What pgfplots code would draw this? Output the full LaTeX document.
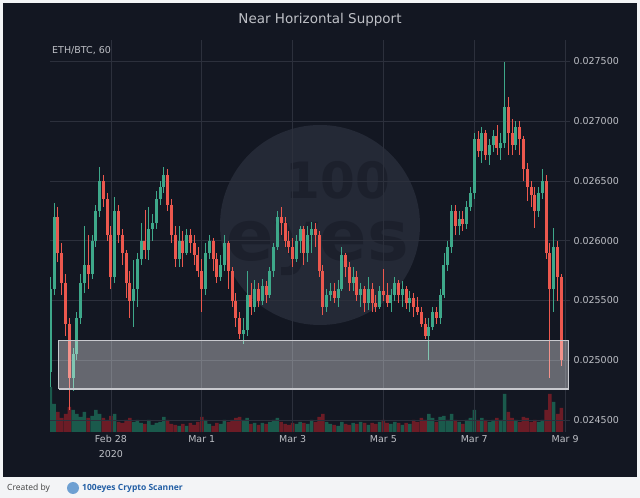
\documentclass[border=0pt]{standalone}
\usepackage{pgfplots}
\pgfplotsset{compat=1.18}
\usepackage{pgfplotstable}
\usepackage{fontspec}
\setmainfont{DejaVu Sans}
\newfontfamily\opensans{Open Sans}
\definecolor{bg}{RGB}{19,23,34}
\definecolor{outer}{RGB}{243,244,246}
\definecolor{gridc}{RGB}{44,48,60}
\definecolor{labc}{RGB}{190,192,198}
\definecolor{upc}{RGB}{62,168,138}
\definecolor{dnc}{RGB}{236,88,78}
\definecolor{volg}{RGB}{26,90,76}
\definecolor{volr}{RGB}{108,28,38}
\definecolor{wmc}{RGB}{36,41,54}
\definecolor{wmt}{RGB}{28,32,44}
\definecolor{rectc}{RGB}{200,201,206}
\definecolor{linkc}{RGB}{35,95,165}
\definecolor{logoc}{RGB}{110,160,210}

\pgfplotstableread{
t o h l c v
-32 0.02490 0.02570 0.02478 0.02560 45
-30 0.02560 0.02632 0.02555 0.02620 28
-28 0.02620 0.02628 0.02582 0.02590 20
-26 0.02590 0.02598 0.02555 0.02565 14
-24 0.02565 0.02572 0.02520 0.02530 18
-22 0.02530 0.02535 0.02458 0.02485 25
-20 0.02485 0.02510 0.02474 0.02505 22
-18 0.02505 0.02540 0.02500 0.02535 18
-16 0.02535 0.02572 0.02530 0.02565 15
-14 0.02565 0.02612 0.02556 0.02580 20
-12 0.02580 0.02605 0.02560 0.02572 14
-10 0.02572 0.02605 0.02568 0.02600 16
-8 0.02600 0.02630 0.02595 0.02625 22
-6 0.02625 0.02662 0.02620 0.02650 18
-4 0.02650 0.02655 0.02628 0.02635 14
-2 0.02635 0.02640 0.02600 0.02605 12
0 0.02605 0.02612 0.02560 0.02570 16
2 0.02570 0.02637 0.02565 0.02625 18
4 0.02625 0.02630 0.02598 0.02605 10
6 0.02605 0.02610 0.02580 0.02590 9
8 0.02590 0.02592 0.02552 0.02565 12
10 0.02565 0.02575 0.02535 0.02550 14
12 0.02550 0.02584 0.02528 0.02560 10
14 0.02560 0.02590 0.02545 0.02585 12
16 0.02585 0.02615 0.02580 0.02600 9
18 0.02600 0.02626 0.02585 0.02592 8
20 0.02592 0.02628 0.02584 0.02610 12
22 0.02610 0.02622 0.02600 0.02615 7
24 0.02615 0.02642 0.02610 0.02635 9
26 0.02635 0.02650 0.02630 0.02645 10
28 0.02645 0.02662 0.02640 0.02655 15
30 0.02655 0.02660 0.02625 0.02630 12
32 0.02630 0.02635 0.02598 0.02605 8
34 0.02605 0.02612 0.02578 0.02585 7
36 0.02585 0.02612 0.02578 0.02600 6
38 0.02600 0.02608 0.02578 0.02590 8
40 0.02590 0.02610 0.02588 0.02605 6
42 0.02605 0.02610 0.02590 0.02598 9
44 0.02598 0.02605 0.02580 0.02588 7
46 0.02588 0.02595 0.02570 0.02575 10
48 0.02575 0.02585 0.02540 0.02560 15
50 0.02560 0.02598 0.02555 0.02590 12
52 0.02590 0.02605 0.02585 0.02600 8
54 0.02600 0.02602 0.02575 0.02585 6
56 0.02585 0.02590 0.02565 0.02570 9
58 0.02570 0.02588 0.02566 0.02580 8
60 0.02580 0.02605 0.02575 0.02598 12
62 0.02598 0.02600 0.02560 0.02575 10
64 0.02575 0.02578 0.02545 0.02550 12
66 0.02550 0.02556 0.02528 0.02535 14
68 0.02535 0.02540 0.02518 0.02522 15
70 0.02522 0.02535 0.02514 0.02525 12
72 0.02525 0.02575 0.02520 0.02555 14
74 0.02555 0.02565 0.02538 0.02545 8
76 0.02545 0.02567 0.02540 0.02560 9
78 0.02560 0.02565 0.02545 0.02550 7
80 0.02550 0.02568 0.02546 0.02562 9
82 0.02562 0.02566 0.02548 0.02555 8
84 0.02555 0.02578 0.02552 0.02575 10
86 0.02575 0.02598 0.02570 0.02595 12
88 0.02595 0.02625 0.02592 0.02620 14
90 0.02620 0.02628 0.02605 0.02615 10
92 0.02615 0.02620 0.02595 0.02600 8
94 0.02600 0.02608 0.02590 0.02595 7
96 0.02595 0.02602 0.02578 0.02585 9
98 0.02585 0.02605 0.02582 0.02600 8
100 0.02600 0.02612 0.02590 0.02610 10
102 0.02610 0.02612 0.02580 0.02590 9
104 0.02590 0.02612 0.02582 0.02605 8
106 0.02605 0.02616 0.02590 0.02610 12
108 0.02610 0.02615 0.02595 0.02605 10
110 0.02605 0.02608 0.02570 0.02575 15
112 0.02575 0.02580 0.02538 0.02545 18
114 0.02545 0.02560 0.02540 0.02555 10
116 0.02555 0.02565 0.02550 0.02558 8
118 0.02558 0.02565 0.02548 0.02552 7
120 0.02552 0.02567 0.02545 0.02560 6
122 0.02560 0.02595 0.02558 0.02588 10
124 0.02588 0.02590 0.02570 0.02578 8
126 0.02578 0.02582 0.02558 0.02565 7
128 0.02565 0.02578 0.02558 0.02570 9
130 0.02570 0.02575 0.02550 0.02555 8
132 0.02555 0.02565 0.02545 0.02560 10
134 0.02560 0.02562 0.02540 0.02548 9
136 0.02548 0.02570 0.02542 0.02560 7
138 0.02560 0.02565 0.02540 0.02548 9
140 0.02548 0.02555 0.02540 0.02545 8
142 0.02545 0.02562 0.02543 0.02558 10
144 0.02558 0.02576 0.02550 0.02555 12
146 0.02555 0.02565 0.02545 0.02548 9
148 0.02548 0.02560 0.02540 0.02555 8
150 0.02555 0.02570 0.02550 0.02565 10
152 0.02565 0.02567 0.02548 0.02555 9
154 0.02555 0.02566 0.02545 0.02560 7
156 0.02560 0.02562 0.02543 0.02548 9
158 0.02548 0.02558 0.02540 0.02552 8
160 0.02552 0.02556 0.02536 0.02545 12
162 0.02545 0.02553 0.02538 0.02540 10
164 0.02540 0.02545 0.02528 0.02530 14
166 0.02530 0.02535 0.02518 0.02520 12
168 0.02520 0.02535 0.02500 0.02528 18
170 0.02528 0.02545 0.02525 0.02540 14
172 0.02540 0.02545 0.02530 0.02535 10
174 0.02535 0.02560 0.02530 0.02555 15
176 0.02555 0.02590 0.02552 0.02580 16
178 0.02580 0.02600 0.02575 0.02595 12
180 0.02595 0.02630 0.02590 0.02625 18
182 0.02625 0.02630 0.02605 0.02612 12
184 0.02612 0.02625 0.02605 0.02618 10
186 0.02618 0.02625 0.02608 0.02614 8
188 0.02614 0.02633 0.02610 0.02628 12
190 0.02628 0.02645 0.02625 0.02640 14
192 0.02640 0.02690 0.02635 0.02685 22
194 0.02685 0.02692 0.02670 0.02675 12
196 0.02675 0.02695 0.02665 0.02690 14
198 0.02690 0.02693 0.02668 0.02672 12
200 0.02672 0.02685 0.02663 0.02680 10
202 0.02680 0.02693 0.02674 0.02688 12
204 0.02688 0.02697 0.02672 0.02678 14
206 0.02678 0.02690 0.02668 0.02682 12
208 0.02682 0.02750 0.02678 0.02712 38
210 0.02712 0.02720 0.02672 0.02690 20
212 0.02690 0.02702 0.02672 0.02680 14
214 0.02680 0.02700 0.02676 0.02695 12
216 0.02695 0.02700 0.02672 0.02685 10
218 0.02685 0.02688 0.02650 0.02660 15
220 0.02660 0.02665 0.02633 0.02645 14
222 0.02645 0.02650 0.02628 0.02638 10
224 0.02638 0.02645 0.02611 0.02625 12
226 0.02625 0.02645 0.02620 0.02640 10
228 0.02640 0.02660 0.02635 0.02650 12
230 0.02650 0.02655 0.02585 0.02590 22
232 0.02590 0.02598 0.02485 0.02560 38
234 0.02560 0.02611 0.02540 0.02595 30
236 0.02595 0.02600 0.02550 0.02570 18
238 0.02570 0.02572 0.02495 0.02500 24
}\candles

\pgfplotsset{
  frameset/.style={at={(50pt,66pt)}, anchor=south west, width=520pt, height=392pt,
    scale only axis, xmin=-32.2, xmax=242.6, clip=true},
  upsel/.style={restrict expr to domain={(\thisrow{c}-\thisrow{o})*100000}{-0.5:1000}},
  dnsel/.style={restrict expr to domain={(\thisrow{o}-\thisrow{c})*100000}{0.5:1000}},
}

\begin{document}
\begin{tikzpicture}[x=1pt,y=1pt]
\fill[outer] (0,0) rectangle (640,498);
\fill[bg] (3,21) rectangle (637,495);
% watermark
\fill[wmc] (320,273) circle (100);
\node[text=wmt, font=\fontsize{50}{50}\selectfont\bfseries] at (338,318) {100};
\node[text=wmt, font=\fontsize{70}{70}\selectfont\bfseries] at (318,250) {eyes};
% title and symbol
\node[text=labc, font=\fontsize{13.5}{16}\selectfont] at (320,478) {Near Horizontal Support};
\node[anchor=west, text=labc, font=\fontsize{9.5}{11}\selectfont, inner sep=0pt] at (52,447) {ETH/BTC, 60};

% volume
\begin{axis}[frameset, ymin=0, ymax=392, hide axis]
\addplot[ybar, bar width=3.5pt, bar shift=0pt, fill=volg, draw=none, upsel] table[x=t, y=v] {\candles};
\addplot[ybar, bar width=3.5pt, bar shift=0pt, fill=volr, draw=none, dnsel] table[x=t, y=v] {\candles};
\end{axis}

% price
\begin{axis}[frameset, ymin=0.02440, ymax=0.02768,
  axis line style={draw=none}, major tick length=0pt,
  grid=major, major grid style={draw=gridc, line width=0.6pt},
  xtick={0,48,96,144,192,240},
  xticklabels={{Feb 28\\2020},{Mar 1},{Mar 3},{Mar 5},{Mar 7},{Mar 9}},
  xticklabel style={align=center, font=\fontsize{9.5}{15}\selectfont, text=labc},
  ytick={0.0245,0.025,0.0255,0.026,0.0265,0.027,0.0275},
  yticklabel pos=right, scaled y ticks=false,
  yticklabel style={/pgf/number format/.cd, fixed, precision=6, fixed zerofill, assume math mode=true,
     /tikz/.cd, font=\fontsize{9.5}{11}\selectfont, text=labc},
  unbounded coords=discard]
% up wicks and bodies
\addplot[draw=none, mark=none, upsel, error bars/.cd, y dir=both, y explicit, error mark=none,
  error bar style={draw=upc, line width=0.9pt}]
  table[x=t, y expr={(\thisrow{h}+\thisrow{l})/2}, y error expr={(\thisrow{h}-\thisrow{l})/2}] {\candles};
\addplot[draw=none, mark=none, upsel, error bars/.cd, y dir=both, y explicit, error mark=none,
  error bar style={draw=upc, line width=3.0pt}]
  table[x=t, y expr={(\thisrow{o}+\thisrow{c})/2}, y error expr={max(abs(\thisrow{c}-\thisrow{o})/2,0.000008)}] {\candles};
% down wicks and bodies
\addplot[draw=none, mark=none, dnsel, error bars/.cd, y dir=both, y explicit, error mark=none,
  error bar style={draw=dnc, line width=0.9pt}]
  table[x=t, y expr={(\thisrow{h}+\thisrow{l})/2}, y error expr={(\thisrow{h}-\thisrow{l})/2}] {\candles};
\addplot[draw=none, mark=none, dnsel, error bars/.cd, y dir=both, y explicit, error mark=none,
  error bar style={draw=dnc, line width=3.0pt}]
  table[x=t, y expr={(\thisrow{o}+\thisrow{c})/2}, y error expr={max(abs(\thisrow{c}-\thisrow{o})/2,0.000008)}] {\candles};
% support zone
\addplot[fill=white, fill opacity=0.35, draw=rectc, line width=1.1pt]
  coordinates {(-27.5,0.02476) (242,0.02476) (242,0.025162) (-27.5,0.025162) (-27.5,0.02476)};
\end{axis}

% footer
\node[anchor=west, text=black!75, font=\opensans\fontsize{8.5}{10}\selectfont, inner sep=0pt] at (7,10) {Created by};
\fill[logoc] (73,10) circle (6);
\node[anchor=west, text=linkc, font=\opensans\bfseries\fontsize{8.5}{10}\selectfont, inner sep=0pt] at (82,10) {100eyes Crypto Scanner};
\end{tikzpicture}
\end{document}
